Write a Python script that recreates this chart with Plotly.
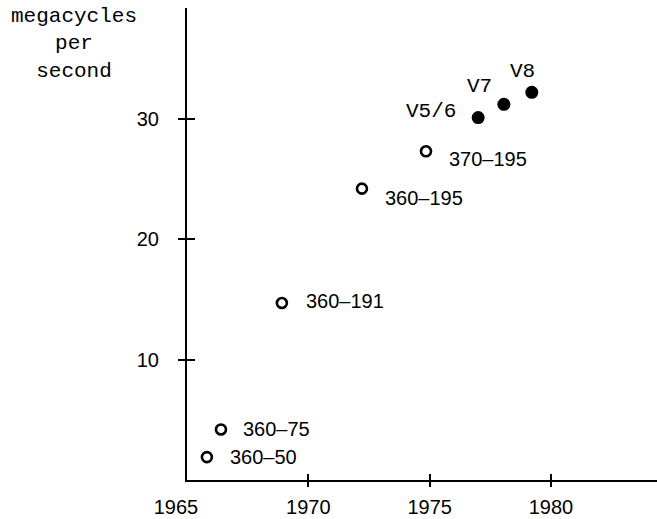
import plotly.graph_objects as go

# Data
open_names = ["360–50", "360–75", "360–191", "360–195", "370–195"]
open_years = [1965.82, 1966.40, 1968.91, 1972.21, 1974.85]
open_mhz = [1.9, 4.2, 14.7, 24.2, 27.3]

filled_names = ["V5/6", "V7", "V8"]
filled_years = [1977.0, 1978.06, 1979.21]
filled_mhz = [30.1, 31.2, 32.2]

x_tick_labels = [1965, 1970, 1975, 1980]
x_tick_text = ["1965&nbsp;&nbsp;&nbsp;&nbsp;", "1970", "1975", "1980"]
x_tick_marks = [1970, 1975, 1980]
y_ticks = [10, 20, 30]
y_title = "megacycles<br>per<br>second"

XR = [1965, 1984.37]
YR = [0, 39.2]

fig = go.Figure()
fig.add_trace(go.Scatter(
    x=open_years, y=open_mhz, mode="markers",
    marker=dict(symbol="circle-open", size=10, color="black", line=dict(width=2.6, color="black")),
    showlegend=False, hoverinfo="skip"))
fig.add_trace(go.Scatter(
    x=filled_years, y=filled_mhz, mode="markers",
    marker=dict(symbol="circle", size=13, color="black"),
    showlegend=False, hoverinfo="skip"))

sans = dict(family="Liberation Sans, Arial, sans-serif", size=20, color="black")
mono = dict(family="Liberation Mono, Courier New, monospace", size=21, color="black")

open_shifts = [(21, 0), (20, 0), (22, 2), (21, -9), (21, -8)]
for name, x, y, (dx, dy) in zip(open_names, open_years, open_mhz, open_shifts):
    fig.add_annotation(x=x, y=y, text=name, showarrow=False, xanchor="left", yanchor="middle",
                       xshift=dx, yshift=dy, font=sans)

filled_layout = [("right", -20, 6), ("center", -24, 18), ("center", -9, 21)]
for name, x, y, (anc, dx, dy) in zip(filled_names, filled_years, filled_mhz, filled_layout):
    fig.add_annotation(x=x, y=y, text=name, showarrow=False, xanchor=anc, yanchor="middle",
                       xshift=dx, yshift=dy, font=mono)

fig.add_annotation(xref="paper", yref="paper", x=-0.2404, y=1.0, text=y_title, showarrow=False,
                   xanchor="center", yanchor="top", align="center", yshift=5, font=mono)

common = dict(showgrid=False, zeroline=False)
fig.update_layout(
    width=657, height=519,
    margin=dict(l=187, r=0, t=8, b=39),
    paper_bgcolor="white", plot_bgcolor="white",
    xaxis=dict(range=XR, tickvals=x_tick_labels, ticktext=x_tick_text,
               ticks="", showline=True, linecolor="black", linewidth=2.2,
               tickfont=dict(family="Liberation Sans, Arial, sans-serif", size=20, color="black"),
               ticklabelstandoff=8, automargin=False, **common),
    xaxis2=dict(range=XR, overlaying="x", tickvals=x_tick_marks, ticks="outside", ticklen=6,
                tickwidth=2.2, tickcolor="black", showticklabels=False, showline=False, anchor="y", **common),
    xaxis3=dict(range=XR, overlaying="x", tickvals=x_tick_marks, ticks="inside", ticklen=6,
                tickwidth=2.2, tickcolor="black", showticklabels=False, showline=False, anchor="y", **common),
    yaxis=dict(range=YR, tickvals=y_ticks, ticks="", showline=True, linecolor="black", linewidth=2.2,
               tickfont=dict(family="Liberation Sans, Arial, sans-serif", size=20, color="black"),
               ticklabelstandoff=22, automargin=False, **common),
    yaxis2=dict(range=YR, overlaying="y", tickvals=y_ticks, ticks="outside", ticklen=8,
                tickwidth=2.2, tickcolor="black", showticklabels=False, showline=False, anchor="x", **common),
    yaxis3=dict(range=YR, overlaying="y", tickvals=y_ticks, ticks="inside", ticklen=8,
                tickwidth=2.2, tickcolor="black", showticklabels=False, showline=False, anchor="x", **common),
)
# invisible traces to activate overlay axes
for xa, ya in [("x2", "y2"), ("x3", "y3")]:
    fig.add_trace(go.Scatter(x=[XR[0]], y=[YR[0]], xaxis=xa, yaxis=ya, mode="markers",
                             marker=dict(opacity=0), showlegend=False, hoverinfo="skip"))

fig.write_html("out.html", config={"displayModeBar": False},
               post_script="document.body.style.margin='0';")
